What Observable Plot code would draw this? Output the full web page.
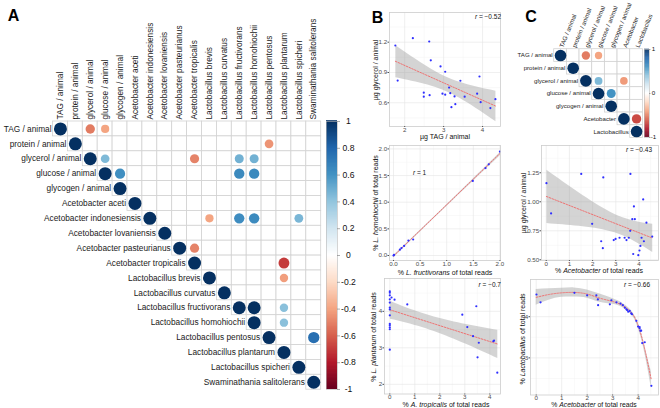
<!DOCTYPE html>
<html><head><meta charset="utf-8">
<script src="https://cdn.jsdelivr.net/npm/d3@7"></script>
<script src="https://cdn.jsdelivr.net/npm/@observablehq/plot@0.6"></script>
<style>
body{margin:0;background:#fff;}
#fig{position:relative;width:660px;height:408px;overflow:hidden;font-family:"Liberation Sans",Arial,sans-serif;background:#fff;}
.lbl{position:absolute;white-space:nowrap;line-height:1;}
</style></head><body><div id="fig"></div>
<script>
// ---------- Panel A: correlation matrix ----------
const aNames = ["TAG / animal","protein / animal","glycerol / animal","glucose / animal","glycogen / animal","Acetobacter aceti","Acetobacter indonesiensis","Acetobacter lovaniensis","Acetobacter pasteurianus","Acetobacter tropicalis","Lactobacillus brevis","Lactobacillus curvatus","Lactobacillus fructivorans","Lactobacillus homohiochii","Lactobacillus pentosus","Lactobacillus plantarum","Lactobacillus spicheri","Swaminathania salitolerans"];
const aRows = ["TAG / animal","TAG / animal","protein / animal","glycerol / animal","glycerol / animal","glycerol / animal","glycerol / animal","glucose / animal","glucose / animal","glucose / animal","Acetobacter indonesiensis","Acetobacter indonesiensis","Acetobacter indonesiensis","Acetobacter indonesiensis","Acetobacter pasteurianus","Acetobacter tropicalis","Lactobacillus brevis","Lactobacillus fructivorans","Lactobacillus fructivorans","Lactobacillus homohiochii","Lactobacillus pentosus"];
const aCols = ["glycerol / animal","glucose / animal","Lactobacillus pentosus","glucose / animal","Acetobacter tropicalis","Lactobacillus fructivorans","Lactobacillus homohiochii","glycogen / animal","Lactobacillus fructivorans","Lactobacillus homohiochii","Lactobacillus brevis","Lactobacillus fructivorans","Lactobacillus homohiochii","Lactobacillus spicheri","Acetobacter tropicalis","Lactobacillus plantarum","Lactobacillus plantarum","Lactobacillus homohiochii","Lactobacillus plantarum","Lactobacillus plantarum","Swaminathania salitolerans"];
const aVals = [-0.52,-0.40,-0.45,0.45,-0.50,0.48,0.48,0.62,0.64,0.64,-0.40,0.63,0.64,0.46,-0.50,-0.70,-0.42,1.0,0.42,0.42,0.76];

// ---------- Panel C: correlation matrix ----------
const cNames = ["TAG / animal","protein / animal","glycerol / animal","glucose / animal","glycogen / animal","Acetobacter","Lactobacillus"];
const cRows = ["TAG / animal","TAG / animal","glycerol / animal","glycerol / animal","glucose / animal","Acetobacter"];
const cCols = ["glycerol / animal","glucose / animal","glucose / animal","Acetobacter","glycogen / animal","Lactobacillus"];
const cVals = [-0.52,-0.40,0.45,-0.43,0.60,-0.66];

// colour bar
const rdStops = [-1,-0.8,-0.6,-0.4,-0.2,0,0.2,0.4,0.6,0.8,1];
const rdColors = ["#67001F","#B2182B","#D6604D","#F4A582","#FDDBC7","#FFFFFF","#D1E5F0","#92C5DE","#4393C3","#2166AC","#053061"];
const aBarTicks = [1,0.8,0.6,0.4,0.2,0,-0.2,-0.4,-0.6,-0.8,-1];
const cBarTicks = [1,0,-1];

// ---------- Panel B1: glycerol vs TAG ----------
const tagB1 = [1.76,1.82,2.21,2.63,2.67,2.49,2.49,2.64,2.92,3.04,2.97,3.04,3.14,3.17,3.28,3.20,3.30,3.43,3.54,3.86,3.92,3.95,4.20,4.33];
const glyB1 = [1.167,0.82,1.24,1.207,1.02,0.70,0.66,0.675,0.96,0.907,0.69,0.68,0.75,0.695,0.663,0.556,0.586,0.818,0.66,0.69,0.86,0.606,0.547,0.636];
// ---------- Panel B2: L. homohiochii vs L. fructivorans ----------
const fruB2 = [0.0,0.01,0.12,0.15,0.20,0.28,0.37,1.49,1.73,1.79,2.0];
const homB2 = [0.0,0.01,0.11,0.14,0.18,0.28,0.30,1.40,1.64,1.71,1.95];
// ---------- Panel B3: L. plantarum vs A. tropicalis ----------
const troB3 = [0,0,0,0,0,0,0,0,0,0,0,0,0,0.07,0.19,0.70,2.9,3.1,3.46,3.33,3.56,3.51,4.14,4.17,4.3];
const plaB3 = [4.55,4.51,4.44,4.33,4.24,4.10,4.05,3.89,3.66,3.62,3.56,3.51,2.95,4.38,4.32,4.19,3.91,3.57,4.14,3.32,3.14,2.74,3.18,3.20,2.32];
// ---------- Panel C1: glycerol vs Acetobacter ----------
const aceC1 = [0.01,0.21,1.51,1.98,2.46,2.37,2.44,2.91,2.99,3.16,3.38,3.46,3.56,3.63,3.62,3.71,3.78,3.82,3.75,3.97,4.02,4.06,4.11,4.18,4.21,4.32,4.57];
const glyC1 = [1.16,0.90,1.24,0.81,1.21,0.66,0.60,0.67,0.68,0.69,0.69,0.67,0.69,1.24,0.75,0.85,0.96,0.85,0.55,0.54,0.58,0.62,0.69,1.02,0.66,0.82,0.70];
// ---------- Panel C2: Lactobacillus vs Acetobacter ----------
const aceC2 = [0.01,0.17,1.50,2.0,2.36,2.43,2.42,2.89,2.95,3.15,3.31,3.40,3.48,3.54,3.57,3.61,3.67,3.73,3.76,3.93,4.0,4.06,4.09,4.12,4.06,4.16,4.26,4.52];
const lacC2 = [4.54,4.35,4.58,4.52,4.52,4.28,4.42,4.30,4.40,4.35,4.32,4.28,4.22,4.18,4.16,4.12,4.14,4.08,4.06,3.90,3.76,3.72,3.66,3.66,3.75,3.36,3.38,2.32];
// smooth curve
const loessX = [0,0.5,1.0,1.5,2.0,2.5,3.0,3.4,3.7,3.9,4.1,4.3,4.52];
const loessY = [4.47,4.54,4.58,4.59,4.55,4.45,4.37,4.27,4.12,3.94,3.60,3.10,2.46];
const loessSE = [0.19,0.14,0.11,0.11,0.10,0.10,0.07,0.05,0.05,0.05,0.07,0.10,0.20];

// ---------- helpers ----------
const FONT = '"Liberation Sans", Arial, sans-serif';
const fig = document.getElementById("fig");
const colorScale = {type:"linear", domain: rdStops, range: rdColors, interpolate:"rgb"};

function place(node, left, top){
  node.style.position = "absolute";
  node.style.left = left + "px";
  node.style.top = top + "px";
  fig.appendChild(node);
}
function label(html, x, y, o = {}){
  const {size = 7, anchor = "middle", rotate = 0, weight = "normal", color = "#111"} = o;
  const d = document.createElement("div");
  d.className = "lbl";
  d.innerHTML = html;
  d.style.left = x + "px"; d.style.top = y + "px";
  d.style.fontSize = size + "px"; d.style.fontWeight = weight; d.style.color = color;
  const tx = anchor === "start" ? "0%" : anchor === "end" ? "-100%" : "-50%";
  d.style.transform = `translate(${tx},-50%) rotate(${rotate}deg)`;
  fig.appendChild(d);
}

function corrplot({names, rows, cols, vals, left, top, width, height, gx, gy, cell, rmax, fs, colRot, colDx = 0}){
  const n = names.length;
  const upper = [];
  names.forEach((r, i) => names.forEach((c, j) => { if (j >= i) upper.push({r, c}); }));
  const circles = names.map(nm => ({r: nm, c: nm, v: 1}))
    .concat(vals.map((v, k) => ({r: rows[k], c: cols[k], v})));
  const x0 = gx - left, y0 = gy - top;
  const svg = Plot.plot({
    width, height, margin: 0,
    x: {type: "band", domain: names, range: [x0, x0 + n * cell], padding: 0, round: false, axis: null},
    y: {type: "band", domain: names, range: [y0, y0 + n * cell], padding: 0, round: false, axis: null},
    r: {type: "sqrt", domain: [0, 1], range: [0, rmax]},
    color: colorScale,
    style: {fontFamily: FONT, overflow: "visible", background: "none"},
    marks: [
      Plot.cell(upper, {x: "c", y: "r", fill: "white", stroke: "#d2d2d2", strokeWidth: 0.8, inset: 0}),
      Plot.dot(circles, {x: "c", y: "r", r: d => Math.abs(d.v), fill: "v", stroke: null}),
      Plot.text(names, {x: d => d, y: d => d, text: d => d, textAnchor: "end", dx: -(cell / 2 + 1.5), fontSize: fs, fill: "#1a1a1a"}),
      Plot.text(names, {x: d => d, y: () => names[0], text: d => d, textAnchor: "start", rotate: colRot, dy: -(cell / 2 + 2), dx: colDx, fontSize: fs, fill: "#1a1a1a"})
    ]
  });
  place(svg, left, top);
}

function colorbar({left, top, width, height, bx0, bx1, by0, by1, ticks, labelX, fs, tickLen}){
  const step = 0.01;
  const steps = d3.range(-1, 1 - step / 2, step);
  const w = bx1 - bx0;
  const svg = Plot.plot({
    width, height,
    marginLeft: bx0 - left, marginRight: left + width - bx1, marginTop: by0 - top, marginBottom: top + height - by1,
    x: {domain: [0, 1], axis: null},
    y: {domain: [-1, 1], axis: null},
    color: colorScale,
    style: {fontFamily: FONT, overflow: "visible", background: "none"},
    marks: [
      Plot.rect(steps, {x1: 0, x2: 1, y1: d => d, y2: d => d + step * 1.6, fill: d => d + step / 2, inset: 0}),
      Plot.frame({stroke: "#b8b8b8", strokeWidth: 0.6}),
      Plot.ruleY(ticks, {y: d => d, x1: 1, x2: 1 + tickLen / w, stroke: "#777", strokeWidth: 0.6}),
      Plot.text(ticks, {y: d => d, x: (labelX - bx0) / w, text: d => String(d), textAnchor: "middle", fontSize: fs, fill: "#111"})
    ]
  });
  place(svg, left, top);
}

function scatter({left, top, width, height, fx0, fy0, fx1, fy1, xd, yd, xt, yt, xm, ym, xf, yf, marks}){
  const svg = Plot.plot({
    width, height,
    marginLeft: fx0 - left, marginTop: fy0 - top, marginRight: left + width - fx1, marginBottom: top + height - fy1,
    x: {domain: xd, axis: null},
    y: {domain: yd, axis: null},
    style: {fontFamily: FONT, fontSize: "6.2px", overflow: "visible", background: "none"},
    marks: [
      Plot.gridX(xm, {stroke: "#f3f3f3", strokeOpacity: 1, strokeWidth: 0.5}),
      Plot.gridY(ym, {stroke: "#f3f3f3", strokeOpacity: 1, strokeWidth: 0.5}),
      Plot.gridX(xt, {stroke: "#e4e4e4", strokeOpacity: 1, strokeWidth: 0.6}),
      Plot.gridY(yt, {stroke: "#e4e4e4", strokeOpacity: 1, strokeWidth: 0.6}),
      ...marks,
      Plot.frame({stroke: "#cdcdcd", strokeWidth: 0.8}),
      Plot.axisX(xt, {tickSize: 1, tickPadding: 0, tickFormat: xf, color: "#4d4d4d", label: null, fontSize: 6.2}),
      Plot.axisY(yt, {tickSize: 1.5, tickPadding: 0.8, tickFormat: yf, color: "#4d4d4d", label: null, fontSize: 6.2})
    ]
  });
  place(svg, left, top);
}

const PT = {r: 1.1, fill: "#2f2fff", stroke: null};
const REG = {stroke: "#f06868", strokeWidth: 0.9, strokeDasharray: "1.6,1.4", fill: "#999999", fillOpacity: 0.42};
const f0 = d => String(d);
const f1 = d3.format(".1f");
const f2 = d3.format(".2f");

// ---------- draw ----------
corrplot({names: aNames, rows: aRows, cols: aCols, vals: aVals, left: 0, top: 0, width: 330, height: 408,
  gx: 52.5, gy: 121, cell: 14.9, rmax: 6.5, fs: 8.3, colRot: -90});
colorbar({left: 320, top: 100, width: 40, height: 300, bx0: 326, bx1: 337, by0: 121, by1: 389,
  ticks: aBarTicks, labelX: 348, fs: 8.6, tickLen: 3});

// B1
scatter({left: 340, top: 0, width: 162, height: 140, fx0: 389, fy0: 12, fx1: 500, fy1: 126,
  xd: [1.61, 4.46], yd: [0.365, 1.494], xt: [2, 3, 4], yt: [0.6, 0.9, 1.2], xm: [2.5, 3.5], ym: [0.45, 0.75, 1.05, 1.35],
  xf: f0, yf: f1,
  marks: [Plot.linearRegressionY(tagB1, {x: tagB1, y: glyB1, ...REG}), Plot.dot(tagB1, {x: tagB1, y: glyB1, ...PT})]});
// B2
scatter({left: 340, top: 140, width: 162, height: 135, fx0: 389, fy0: 145, fx1: 500, fy1: 260,
  xd: [-0.075, 2.011], yd: [-0.094, 2.064], xt: [0, 0.5, 1, 1.5, 2], yt: [0, 0.5, 1, 1.5, 2], xm: [0.25, 0.75, 1.25, 1.75], ym: [0.25, 0.75, 1.25, 1.75],
  xf: f1, yf: f1,
  marks: [Plot.linearRegressionY(fruB2, {x: fruB2, y: homB2, ...REG}), Plot.dot(fruB2, {x: fruB2, y: homB2, ...PT})]});
// B3
scatter({left: 340, top: 275, width: 162, height: 133, fx0: 384, fy0: 278, fx1: 500, fy1: 393.5,
  xd: [-0.212, 4.428], yd: [1.735, 4.90], xt: [0, 1, 2, 3, 4], yt: [2, 3, 4], xm: [0.5, 1.5, 2.5, 3.5], ym: [2.5, 3.5, 4.5],
  xf: f0, yf: f0,
  marks: [Plot.linearRegressionY(troB3, {x: troB3, y: plaB3, ...REG}), Plot.dot(troB3, {x: troB3, y: plaB3, ...PT})]});
// C1
scatter({left: 500, top: 140, width: 160, height: 135, fx0: 541, fy0: 145, fx1: 658, fy1: 260,
  xd: [-0.203, 4.84], yd: [0.494, 1.485], xt: [0, 1, 2, 3, 4], yt: [0.5, 0.75, 1, 1.25], xm: [0.5, 1.5, 2.5, 3.5, 4.5], ym: [0.625, 0.875, 1.125, 1.375],
  xf: f0, yf: f2,
  marks: [Plot.linearRegressionY(aceC1, {x: aceC1, y: glyC1, ...REG}), Plot.dot(aceC1, {x: aceC1, y: glyC1, ...PT})]});
// C2
scatter({left: 500, top: 275, width: 160, height: 133, fx0: 530, fy0: 279, fx1: 658, fy1: 394.5,
  xd: [-0.224, 4.80], yd: [2.098, 4.904], xt: [0, 1, 2, 3, 4], yt: [3, 4], xm: [0.5, 1.5, 2.5, 3.5, 4.5], ym: [2.5, 3.5, 4.5],
  xf: f0, yf: f0,
  marks: [
    Plot.areaY(loessX, {x: loessX, y1: loessY.map((v, i) => v - loessSE[i]), y2: loessY.map((v, i) => v + loessSE[i]), fill: "#999999", fillOpacity: 0.42, curve: "natural"}),
    Plot.line(loessX, {x: loessX, y: loessY, stroke: "#f06868", strokeWidth: 0.9, strokeDasharray: "1.6,1.4", curve: "natural"}),
    Plot.dot(aceC2, {x: aceC2, y: lacC2, ...PT})
  ]});

// Panel C matrix (drawn after scatters)
corrplot({names: cNames, rows: cRows, cols: cCols, vals: cVals, left: 500, top: 0, width: 160, height: 140,
  gx: 553.7, gy: 48.7, cell: 12.67, rmax: 5.8, fs: 6.1, colRot: -68, colDx: 1});
colorbar({left: 636, top: 40, width: 24, height: 105, bx0: 644, bx1: 649, by0: 49, by1: 137,
  ticks: cBarTicks, labelX: 653, fs: 6.2, tickLen: 1.5});

// axis titles and annotations
label("µg TAG / animal", 445, 136);
label("µg glycerol / animal", 375, 70, {rotate: -90});
label("% <i>L. fructivorans</i> of total reads", 445, 272);
label("% <i>L. homohiochii</i> of total reads", 375, 203, {rotate: -90});
label("% <i>A. tropicalis</i> of total reads", 446, 404);
label("% <i>L. plantarum</i> of total reads", 373, 337, {rotate: -90});
label("% <i>Acetobacter</i> of total reads", 599, 270);
label("µg glycerol / animal", 523, 203, {rotate: -90});
label("% <i>Acetobacter</i> of total reads", 594, 404.5, {size: 6.8});
label("% <i>Lactobacillus</i> of total reads", 521.5, 339, {rotate: -90});

label("<i>r</i> = −0.52", 501, 16.5, {size: 6.5, anchor: "end"});
label("<i>r</i> = 1", 413, 173, {size: 6.5, anchor: "start"});
label("<i>r</i> = −0.7", 501, 285, {size: 6.5, anchor: "end"});
label("<i>r</i> = −0.43", 652, 150, {size: 6.5, anchor: "end"});
label("<i>r</i> = −0.66", 650, 285, {size: 6.5, anchor: "end"});

label("A", 13.5, 16, {size: 16, weight: "bold", color: "#000"});
label("B", 377.5, 17.5, {size: 16, weight: "bold", color: "#000"});
label("C", 531, 17, {size: 16, weight: "bold", color: "#000"});
</script></body></html>
